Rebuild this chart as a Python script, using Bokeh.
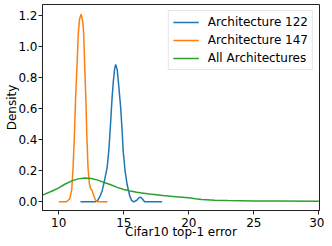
from bokeh.plotting import figure
from bokeh.models import Range1d, Legend, LegendItem, FixedTicker
from bokeh.embed import file_html
from bokeh.resources import INLINE

# Architecture 122 (blue)
a122_x = [11.67, 12.8, 13.0, 13.2, 13.35, 13.5, 13.72, 13.85, 13.98, 14.1, 14.2, 14.3, 14.38,
          14.5, 14.6, 14.75, 14.88, 14.95, 15.1, 15.26, 15.45, 15.6, 15.77, 16.0, 16.15,
          16.28, 16.42, 16.6, 17.95]
a122_y = [0.0, 0.0, 0.01, 0.04, 0.075, 0.13, 0.22, 0.33, 0.5, 0.67, 0.78, 0.86, 0.886,
          0.85, 0.76, 0.62, 0.45, 0.33, 0.2, 0.11, 0.04, 0.01, 0.0, 0.01, 0.025,
          0.03, 0.02, 0.0, 0.0]

# Architecture 147 (orange)
a147_x = [10.0, 10.6, 10.85, 11.0, 11.1, 11.2, 11.3, 11.4, 11.5, 11.6, 11.72, 11.85, 11.92,
          12.0, 12.1, 12.15, 12.25, 12.35, 12.45, 12.55, 12.65, 12.8, 12.95, 13.75]
a147_y = [0.0, 0.0, 0.02, 0.08, 0.22, 0.42, 0.68, 0.87, 1.08, 1.18, 1.21, 1.16, 1.08,
          0.87, 0.62, 0.45, 0.22, 0.12, 0.086, 0.075, 0.05, 0.015, 0.0, 0.0]

# All architectures (green)
all_x = [8.75, 9.5, 10.0, 10.5, 11.0, 11.5, 12.0, 12.5, 13.0, 13.5, 14.0, 14.5, 15.0, 15.5,
         16.0, 16.5, 17.0, 17.5, 18.0, 19.0, 20.0, 20.5, 21.0, 22.0, 23.0, 25.0, 27.0, 30.0]
all_y = [0.043, 0.07, 0.09, 0.115, 0.135, 0.148, 0.153, 0.15, 0.14, 0.125, 0.11, 0.093, 0.08, 0.07,
         0.062, 0.056, 0.05, 0.045, 0.04, 0.033, 0.026, 0.02, 0.015, 0.01, 0.008, 0.006, 0.005, 0.003]

series_names = ["Architecture 122", "Architecture 147", "All Architectures"]
colors = ["#1f77b4", "#ff7f0e", "#2ca02c"]
x_ticks = [10, 15, 20, 25, 30]
y_ticks = [0.0, 0.2, 0.4, 0.6, 0.8, 1.0, 1.2]

FONT = "DejaVu Sans"
FS = "12px"

p = figure(width=324, height=244, output_backend="svg", toolbar_location=None,
           x_range=Range1d(8.75, 30.05), y_range=Range1d(-0.056, 1.273),
           min_border_left=42, min_border_right=5, min_border_top=4, min_border_bottom=34,
           styles={"position": "absolute", "left": "0px", "top": "0px"})
p.background_fill_color = "white"
p.border_fill_color = "white"
p.outline_line_color = "#222222"
p.outline_line_width = 1
p.xgrid.visible = False
p.ygrid.visible = False

r1 = p.line(a122_x, a122_y, line_color=colors[0], line_width=1.5)
r2 = p.line(a147_x, a147_y, line_color=colors[1], line_width=1.5)
r3 = p.line(all_x, all_y, line_color=colors[2], line_width=1.5)

for ax in (p.xaxis[0], p.yaxis[0]):
    ax.axis_line_color = "#222222"
    ax.major_tick_line_color = "#222222"
    ax.major_tick_out = 4
    ax.major_tick_in = 0
    ax.minor_tick_line_color = None
    ax.major_label_text_font = FONT
    ax.major_label_text_font_size = FS
    ax.major_label_text_color = "black"
    ax.axis_label_text_font = FONT
    ax.axis_label_text_font_size = FS
    ax.axis_label_text_font_style = "normal"
    ax.axis_label_text_color = "black"

p.xaxis[0].major_label_standoff = 3
p.xaxis[0].axis_label_standoff = -5
p.yaxis[0].major_label_standoff = 1
p.yaxis[0].axis_label_standoff = -4

p.xaxis[0].ticker = FixedTicker(ticks=x_ticks)
p.yaxis[0].ticker = FixedTicker(ticks=y_ticks)
p.yaxis[0].major_label_overrides = {t: f"{t:.1f}" for t in y_ticks}
p.xaxis[0].axis_label = "Cifar10 top-1 error"
p.yaxis[0].axis_label = "Density"

legend = Legend(items=[LegendItem(label=series_names[0], renderers=[r1]),
                       LegendItem(label=series_names[1], renderers=[r2]),
                       LegendItem(label=series_names[2], renderers=[r3])],
                location="top_right", margin=6, padding=4, spacing=4,
                glyph_width=26, glyph_height=14, label_height=14, label_standoff=9,
                label_text_font=FONT, label_text_font_size=FS, label_text_color="black",
                border_line_color="#cccccc", border_line_width=1,
                background_fill_color="white", background_fill_alpha=0.8)
p.add_layout(legend)

open("out.html", "w").write(file_html(p, INLINE))
